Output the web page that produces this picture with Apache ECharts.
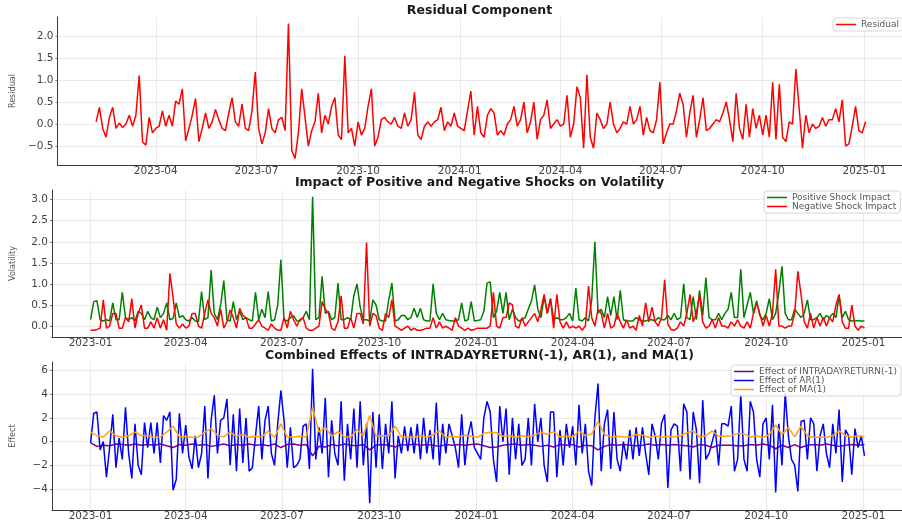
<!DOCTYPE html>
<html>
<head>
<meta charset="utf-8">
<script src="https://cdn.jsdelivr.net/npm/echarts@6/dist/echarts.min.js"></script>
<style>
  html, body { margin: 0; padding: 0; background: #ffffff; }
  #chart { width: 902px; height: 522px; }
</style>
</head>
<body>
<div id="chart"></div>
<script>
// ---- data -------------------------------------------------------------
// Residual component: one value every 3 days from 2023-02-06
const residualStart = '2023-02-06';
const residualStepDays = 3;
const residual = [
  0.05, 0.38, -0.1, -0.3, 0.15, 0.38, -0.1, 0.02, -0.08, 0.0,
  0.2, -0.05, 0.2, 1.1, -0.4, -0.48, 0.15, -0.2, -0.1, -0.05,
  0.3, -0.05, 0.2, -0.05, 0.52, 0.45, 0.8, -0.38, -0.1, 0.2,
  0.58, -0.4, -0.1, 0.25, -0.1, 0.05, 0.33, 0.1, -0.1, -0.15,
  0.25, 0.6, 0.05, -0.05, 0.45, -0.1, -0.15, 0.3, 1.18, -0.1,
  -0.45, -0.2, 0.35, -0.1, -0.2, 0.1, 0.15, -0.15, 2.28, -0.6,
  -0.78, -0.2, 0.8, 0.15, -0.5, -0.15, 0.05, 0.7, -0.2, 0.2,
  0.0, 0.4, 0.6, -0.25, -0.35, 1.55, -0.2, -0.1, -0.5, 0.05,
  -0.25, -0.1, 0.4, 0.8, -0.5, -0.3, 0.1, 0.15, 0.05, 0.0,
  0.15, -0.05, -0.1, 0.25, -0.05, 0.1, 0.72, -0.25, -0.35, -0.05,
  0.05, -0.05, 0.05, 0.1, 0.38, -0.15, 0.05,
  -0.05, 0.25, -0.05, -0.1, -0.15, 0.3, 0.75, -0.25, 0.4, -0.2,
  -0.3, 0.2, 0.35, 0.25, -0.25, -0.15, -0.25, 0.0, 0.1, 0.4,
  -0.05, 0.1, 0.5, -0.2, 0.05, 0.5, -0.35, 0.1, 0.2, 0.55,
  -0.1, 0.0, 0.1, -0.05, 0.0, 0.65, -0.3, 0.0, 0.85, 0.6,
  -0.55, 1.12, -0.3, -0.55, 0.25, 0.1, -0.1, 0.0, 0.5, 0.0,
  -0.2, -0.1, 0.05, 0.0, 0.4, 0.0, 0.1, 0.4, -0.25, 0.15,
  -0.15, -0.2, 0.1, 0.95, -0.45, -0.2, 0.0, 0.0, 0.3, 0.7,
  0.45, -0.3, 0.25, 0.65, -0.3, 0.1, 0.6, -0.15, -0.1, 0.0,
  0.1, 0.05, 0.25, 0.5, 0.1, -0.4, 0.7, -0.1, -0.35, 0.45,
  -0.3, 0.35, -0.1, 0.2, -0.25, 0.2, -0.3, 0.95, -0.35, 0.9,
  -0.3, -0.4, 0.05, 0.0, 1.25, 0.35, -0.55, 0.2, -0.2, 0.0,
  -0.1, -0.05, 0.15, -0.05, 0.1, 0.1, 0.35, 0.05, 0.55, -0.5,
  -0.45, -0.05, 0.4, -0.15, -0.2, 0.05
];

// Shock impact on volatility: one value every 3 days from 2023-01-01
const shockStart = '2023-01-01';
const shockStepDays = 3;
const positiveShock = [
  0.15, 0.58, 0.6, 0.15, 0.12, 0.15, 0.12, 0.55, 0.15, 0.15,
  0.8, 0.2, 0.15, 0.2, 0.12, 0.35, 0.3, 0.15, 0.35, 0.2,
  0.15, 0.45, 0.2, 0.3, 0.55, 0.15, 0.18, 0.55, 0.2, 0.25,
  0.15, 0.12, 0.2, 0.12, 0.1, 0.82, 0.15, 0.2, 1.33, 0.3,
  0.15, 0.5, 1.08, 0.15, 0.12, 0.58, 0.15, 0.35, 0.15, 0.2,
  0.15, 0.12, 0.8, 0.15, 0.4, 0.2, 0.82, 0.12, 0.15, 0.5,
  1.58, 0.15, 0.12, 0.2, 0.25, 0.12, 0.12, 0.2, 0.35, 0.15,
  3.07, 0.15, 0.2, 1.18, 0.3, 0.35, 0.15, 0.2, 1.02, 0.15,
  0.15, 0.2, 0.15, 0.72, 1.0, 0.45, 0.15, 0.15, 0.12, 0.62,
  0.5, 0.15, 0.12, 0.12, 0.62, 1.02, 0.12, 0.15, 0.25, 0.25,
  0.15, 0.2, 0.42, 0.2, 0.42, 0.15, 0.12, 0.12, 1.0, 0.3,
  0.15, 0.3, 0.15, 0.13, 0.12, 0.12, 0.15, 0.55, 0.12, 0.15,
  0.58, 0.12, 0.13, 0.15, 0.35, 1.02, 1.05, 0.2, 0.35, 0.8,
  0.3, 0.8, 0.15, 0.4, 0.2, 0.12, 0.15, 0.2, 0.4, 0.6,
  0.98, 0.4, 0.2, 0.7, 0.3, 0.65, 0.15, 0.2, 0.15, 0.15,
  0.2, 0.3, 0.12, 0.9, 0.15, 0.12, 0.2, 0.12, 0.62, 2.0,
  0.3, 0.4, 0.2, 0.7, 0.25, 0.7, 0.15, 0.85, 0.15, 0.12,
  0.12, 0.12, 0.2, 0.15, 0.12, 0.12, 0.15, 0.15, 0.12, 0.2,
  0.15, 0.15, 0.25, 0.15, 0.3, 0.15, 0.2, 1.0, 0.2, 0.15,
  0.7, 0.15, 0.85, 0.25, 1.15, 0.2, 0.15, 0.15, 0.3, 0.15,
  0.3, 0.4, 0.8, 0.2, 0.2, 1.35, 0.2, 0.5, 0.8, 0.3,
  0.6, 0.25, 0.15, 0.3, 0.65, 0.15, 0.3, 0.8, 1.42, 0.3,
  0.15, 0.15, 0.4, 0.3, 0.2, 0.3, 0.62, 0.15, 0.15, 0.2,
  0.3, 0.15, 0.25, 0.2, 0.3, 0.2, 0.72, 0.2, 0.35, 0.15,
  0.12, 0.12, 0.13, 0.12, 0.12
];
const negativeShock = [
  -0.1, -0.1, -0.08, -0.05, 0.62, -0.05, 0.0, 0.3, 0.3, -0.05,
  -0.05, 0.2, 0.1, 0.65, -0.05, 0.3, 0.5, -0.05, -0.05, 0.1,
  -0.05, 0.2, -0.05, 0.15, -0.1, 1.25, 0.68, 0.05, -0.05, 0.05,
  -0.05, 0.0, 0.3, 0.3, 0.0, -0.05, 0.3, 0.62, 0.3, 0.2,
  0.0, 0.4, -0.05, 0.1, 0.38, 0.2, -0.05, 0.42, 0.25, 0.2,
  -0.05, -0.05, 0.05, 0.15, 0.0, -0.05, -0.1, 0.05, -0.05, -0.1,
  -0.1, 0.2, -0.05, 0.35, 0.15, 0.0, 0.15, 0.2, -0.05, -0.1,
  -0.1, -0.05, 0.0, 0.58, 0.4, 0.3, -0.05, -0.1, 0.1, 0.72,
  -0.05, -0.05, 0.2, -0.05, 0.3, 0.3, 0.05, 1.98, 0.0, 0.3,
  0.25, -0.05, -0.1, 0.3, 0.2, 0.62, 0.0, -0.05, -0.1, -0.05,
  0.0, -0.1, -0.05, -0.1, -0.1, -0.08, -0.05, -0.05, 0.2, -0.05,
  0.1, -0.05, 0.0, -0.05, -0.1, 0.2, 0.0, -0.05, -0.1, -0.05,
  -0.1, -0.08, -0.05, -0.05, -0.05, -0.05, 0.0, 0.8, 0.0, -0.05,
  0.2, 0.2, 0.55, 0.5, 0.0, -0.05, 0.2, 0.0, 0.1, 0.2,
  0.3, 0.1, 0.4, 0.75, 0.3, 0.65, -0.05, 0.75, 0.1, -0.05,
  0.1, -0.05, 0.0, -0.05, 0.0, -0.1, 0.0, 0.95, 0.2, 0.0,
  0.4, 0.3, -0.05, 0.3, -0.05, 0.0, 0.3, 0.1, -0.05, 0.15,
  -0.05, 0.0, -0.1, 0.25, 0.0, 0.55, 0.1, 0.45, 0.1, 0.0,
  0.2, 1.1, 0.05, -0.08, -0.1, -0.05, 0.1, 0.0, 0.3, 0.75,
  0.1, 0.3, 0.75, 0.1, -0.05, 0.0, 0.15, -0.05, 0.2, 0.0,
  0.0, -0.05, 0.1, 0.0, 0.15, 0.0, -0.05, 0.1, -0.05, 0.3,
  0.55, 0.3, 0.0, 0.25, 0.0, 0.3, 1.35, 0.0, 0.0, -0.05,
  0.0, 0.0, 0.3, 1.3, 0.75, 0.1, -0.05, 0.3, -0.05, 0.2,
  0.0, 0.2, 0.0, 0.2, 0.1, 0.5, 0.75, 0.1, -0.05, -0.05,
  0.5, 0.0, -0.1, 0.0, -0.05
];

// Model effects from 2023-01-01: AR(1) every 3 days, the other two every 6 days
const effectStart = '2023-01-01';
const arStepDays = 3;
const slowStepDays = 6;
const arEffect = [
  -0.1, 2.4, 2.5, -0.7, 0.0, -3.0, -0.5, 2.3, -2.2, 0.3,
  -1.5, 2.9, -1.0, -3.1, 1.5, -2.0, -2.8, 1.6, -0.5, 1.6,
  -1.0, 1.6, -1.8, 2.2, 1.8, 2.5, -4.1, -3.2, 2.4, -1.0,
  1.4, -1.3, -2.3, 0.5, -2.2, -1.0, 3.0, -3.1, 1.8, 3.9,
  -1.0, 1.8, 2.0, 3.6, -2.0, 2.3, -2.5, 2.8, -1.8, 2.0,
  -2.5, -2.2, 0.5, 3.0, -1.5, 1.8, 3.0, -1.0, -2.0, 1.5,
  4.3, 1.8, -2.2, 1.2, -2.2, -2.0, -1.5, 1.3, 1.5, -2.3,
  6.15, -1.5, 1.2, -1.0, 3.7, -3.0, 1.8, -1.0, -2.0, 3.4,
  -3.3, 1.5, -1.5, 2.8, -2.2, 3.4, -2.0, 1.5, -5.2, 2.5,
  -2.2, 2.3, -2.3, 1.5, -1.0, 3.4, -3.1, 0.5, -1.0, 1.3,
  -0.8, 1.2, -1.0, 1.5, -1.5, 2.0, -1.0, 1.0, -1.5, 3.3,
  -2.0, 1.5, -1.0, 1.5, 0.5, -0.5, -2.2, 2.3, -2.0, 0.5,
  1.7, -0.5, -1.0, -1.5, 2.0, 3.4, 2.5, -1.5, -3.4, 3.0,
  0.0, 2.8, -2.8, 2.0, -1.5, 1.5, -2.0, -1.5, 2.0, -2.0,
  3.2, 0.0, 2.0, -2.0, -3.4, 2.5, 2.5, -3.0, 1.0, -2.0,
  1.5, -0.5, 1.3, -2.0, 3.1, -1.0, 1.5, -2.5, -3.7, 2.0,
  4.9, -2.5, 1.5, 2.7, -2.3, 2.5, -1.5, -2.5, 0.0, -1.5,
  1.0, -1.5, 1.2, -1.2, 1.2, -1.0, -2.8, 1.5, 0.5, -1.5,
  1.5, 2.3, -3.9, 1.0, 1.5, 1.3, -2.5, 3.2, 2.5, -3.2,
  2.5, 1.0, -3.5, 3.5, -1.5, -1.0, 0.0, 1.0, -2.0, 1.5,
  1.5, 1.3, 3.0, -2.5, -1.5, 4.0, -1.5, -2.5, 3.4, 2.5,
  -1.5, -3.0, 1.5, 2.0, -1.5, 3.1, -4.3, 1.5, -2.0, 4.1,
  0.5, -1.5, -2.0, -4.2, 1.7, 1.8, -1.5, 2.0, 1.5, -2.5,
  0.5, 1.5, -1.0, -2.2, 1.5, -1.0, 2.7, -3.4, 1.0, 0.5,
  -2.8, 1.1, -0.5, 0.5, -1.2
];
const maEffect = [
  0.8, 0.5, 0.4, 0.9, 0.5, 0.35, 0.5, 0.8, 0.5, 0.5,
  0.35, 0.4, 0.8, 1.3, 0.4, 0.45, 0.35, 0.4, 0.8, 1.1,
  0.55, 0.4, 0.8, 0.45, 0.6, 0.35, 0.45, 0.4, 0.9, 0.35,
  1.5, 0.4, 0.4, 0.45, 0.4, 2.9, 0.8, 1.2, 0.45, 0.85,
  0.4, 0.4, 1.0, 0.5, 2.2, 0.45, 0.5, 0.5, 1.3, 0.4,
  0.4, 0.35, 0.5, 0.35, 0.6, 0.9, 0.35, 0.45, 0.4, 0.55,
  0.45, 0.35, 0.7, 0.8, 0.75, 0.45, 0.5, 0.35, 0.5, 0.4,
  0.55, 0.8, 0.6, 0.85, 0.4, 0.45, 0.4, 0.9, 0.5, 0.65,
  1.7, 0.6, 0.4, 0.45, 0.4, 0.4, 0.6, 0.55, 0.35, 0.5,
  0.35, 0.45, 0.4, 0.5, 0.75, 0.9, 0.4, 0.5, 0.9, 0.45,
  0.45, 0.5, 0.7, 0.65, 0.4, 0.5, 0.35, 0.6, 1.4, 0.6,
  1.2, 0.4, 1.3, 0.5, 0.35, 0.4, 0.35, 0.5, 0.9, 0.5,
  0.4, 0.5, 0.4
];
const intradayEffect = [
  -0.1, -0.4, -0.3, -0.35, -0.2, -0.25, -0.3, -0.2, -0.3, -0.25,
  -0.3, -0.2, -0.35, -0.5, -0.25, -0.3, -0.2, -0.3, -0.25, -0.4,
  -0.3, -0.2, -0.35, -0.25, -0.3, -0.2, -0.3, -0.25, -0.35, -0.2,
  -0.5, -0.25, -0.2, -0.3, -0.25, -1.2, -0.4, -0.45, -0.25, -0.35,
  -0.2, -0.3, -0.35, -0.25, -0.7, -0.3, -0.25, -0.3, -0.45, -0.25,
  -0.3, -0.2, -0.3, -0.25, -0.3, -0.4, -0.25, -0.3, -0.25, -0.3,
  -0.25, -0.2, -0.35, -0.5, -0.45, -0.3, -0.25, -0.2, -0.3, -0.25,
  -0.3, -0.4, -0.3, -0.45, -0.25, -0.3, -0.25, -0.45, -0.3, -0.35,
  -0.7, -0.4, -0.25, -0.3, -0.25, -0.3, -0.35, -0.3, -0.2, -0.3,
  -0.25, -0.3, -0.25, -0.3, -0.35, -0.45, -0.25, -0.3, -0.5, -0.3,
  -0.3, -0.3, -0.35, -0.35, -0.25, -0.3, -0.2, -0.3, -0.6, -0.3,
  -0.5, -0.25, -0.5, -0.3, -0.25, -0.3, -0.2, -0.3, -0.4, -0.3,
  -0.25, -0.3, -0.25
];

// Axis ticks
const quarterTicks = [
  '2023-01-01', '2023-04-01', '2023-07-01', '2023-10-01', '2024-01-01',
  '2024-04-01', '2024-07-01', '2024-10-01', '2025-01-01'
];
const residualTicks = [-0.5, 0, 0.5, 1, 1.5, 2];
const volatilityTicks = [0, 0.5, 1, 1.5, 2, 2.5, 3];
const effectTicks = [-4, -2, 0, 2, 4, 6];

// ---- helpers ----------------------------------------------------------
const DAY = 86400000;
const utc = s => Date.parse(s + 'T00:00:00Z');
const dated = (start, step, values) => {
  const t0 = utc(start);
  return values.map((v, i) => [t0 + i * step * DAY, v]);
};
const minus = s => String(s).replace('-', '\u2212');
const monthLabel = v => {
  const d = new Date(v);
  return d.getUTCFullYear() + '-' + String(d.getUTCMonth() + 1).padStart(2, '0');
};

const FONT = '"DejaVu Sans", Verdana, sans-serif';
const GRID_COLOR = '#e4e4e4';
const SPINE_COLOR = '#3a3a3a';

function xAxisFor(gridIndex, min, max) {
  const ticks = quarterTicks.map(utc).filter(t => t >= min && t <= max);
  return {
    type: 'value', gridIndex, min, max,
    axisLine: { show: true, onZero: false, lineStyle: { color: SPINE_COLOR, width: 1 } },
    axisTick: { show: true, length: 2, customValues: ticks, lineStyle: { color: '#777' } },
    axisLabel: {
      customValues: ticks, formatter: monthLabel, margin: 1,
      fontFamily: FONT, fontSize: 10.5, color: '#444'
    },
    splitLine: { show: true, lineStyle: { color: GRID_COLOR, width: 0.8 } }
  };
}

function yAxisFor(gridIndex, min, max, ticks, name, digits) {
  return {
    type: 'value', gridIndex, min, max, name,
    nameLocation: 'middle', nameGap: 35, nameRotate: 90,
    nameTextStyle: { fontFamily: '"Liberation Sans Narrow", "DejaVu Sans Condensed", "Liberation Sans", sans-serif', fontSize: 9, color: '#555' },
    axisLine: { show: true, onZero: false, lineStyle: { color: SPINE_COLOR, width: 1 } },
    axisTick: { show: true, length: 2, customValues: ticks, lineStyle: { color: '#777' } },
    axisLabel: {
      customValues: ticks, margin: 4,
      formatter: v => minus(Number(v).toFixed(digits)),
      fontFamily: FONT, fontSize: 10.5, color: '#444'
    },
    splitLine: { show: true, lineStyle: { color: GRID_COLOR, width: 0.8 } }
  };
}

function legendAt(left, top, names) {
  return {
    data: names, left, top, orient: 'vertical',
    icon: 'rect', itemWidth: 20, itemHeight: 1.5, itemGap: 0,
    padding: [2, 4, 2, 3],
    backgroundColor: 'rgba(255,255,255,0.85)',
    borderColor: '#d6d6d6', borderWidth: 1, borderRadius: 3,
    selectedMode: false,
    textStyle: { fontFamily: FONT, fontSize: 9, color: '#555', lineHeight: 9 }
  };
}

function lineSeries(name, color, xi, data) {
  return {
    name, type: 'line', xAxisIndex: xi, yAxisIndex: xi,
    data, showSymbol: false, symbol: 'none',
    lineStyle: { color, width: 1.5 }, itemStyle: { color },
    emphasis: { disabled: true }
  };
}

function titleText(text, y) {
  return {
    type: 'text', x: 479.5, y,
    style: {
      text, fill: '#1a1a1a', align: 'center', verticalAlign: 'middle',
      font: 'bold 12.5px "DejaVu Sans", Verdana, sans-serif'
    }
  };
}

// ---- chart ------------------------------------------------------------
const topMin = utc('2023-01-02'), topMax = utc('2025-02-04');
const lowMin = Date.UTC(2022, 10, 25, 12), lowMax = Date.UTC(2025, 1, 6, 12);

const chart = echarts.init(document.getElementById('chart'), null, { renderer: 'canvas' });
chart.setOption({
  animation: false,
  backgroundColor: '#ffffff',
  grid: [
    { left: 50, top: 17, width: 859, height: 148 },
    { left: 50, top: 190, width: 859, height: 147 },
    { left: 50, top: 362, width: 859, height: 148 }
  ],
  xAxis: [
    xAxisFor(0, topMin, topMax),
    xAxisFor(1, lowMin, lowMax),
    xAxisFor(2, lowMin, lowMax)
  ],
  yAxis: [
    yAxisFor(0, -0.93, 2.43, residualTicks, 'Residual', 1),
    yAxisFor(1, -0.26, 3.23, volatilityTicks, 'Volatility', 1),
    yAxisFor(2, -5.77, 6.72, effectTicks, 'Effect', 0)
  ],
  legend: [
    legendAt(833, 18, ['Residual']),
    legendAt(764, 191, ['Positive Shock Impact', 'Negative Shock Impact']),
    legendAt(731, 365, ['Effect of INTRADAYRETURN(-1)', 'Effect of AR(1)', 'Effect of MA(1)'])
  ],
  graphic: [
    titleText('Residual Component', 11),
    titleText('Impact of Positive and Negative Shocks on Volatility', 183),
    titleText('Combined Effects of INTRADAYRETURN(-1), AR(1), and MA(1)', 356)
  ],
  series: [
    lineSeries('Residual', '#ff0000', 0, dated(residualStart, residualStepDays, residual)),
    lineSeries('Positive Shock Impact', '#008000', 1, dated(shockStart, shockStepDays, positiveShock)),
    lineSeries('Negative Shock Impact', '#ff0000', 1, dated(shockStart, shockStepDays, negativeShock)),
    lineSeries('Effect of INTRADAYRETURN(-1)', '#800080', 2, dated(effectStart, slowStepDays, intradayEffect)),
    lineSeries('Effect of AR(1)', '#0000ff', 2, dated(effectStart, arStepDays, arEffect)),
    lineSeries('Effect of MA(1)', '#ffa500', 2, dated(effectStart, slowStepDays, maEffect))
  ]
});
</script>
</body>
</html>
